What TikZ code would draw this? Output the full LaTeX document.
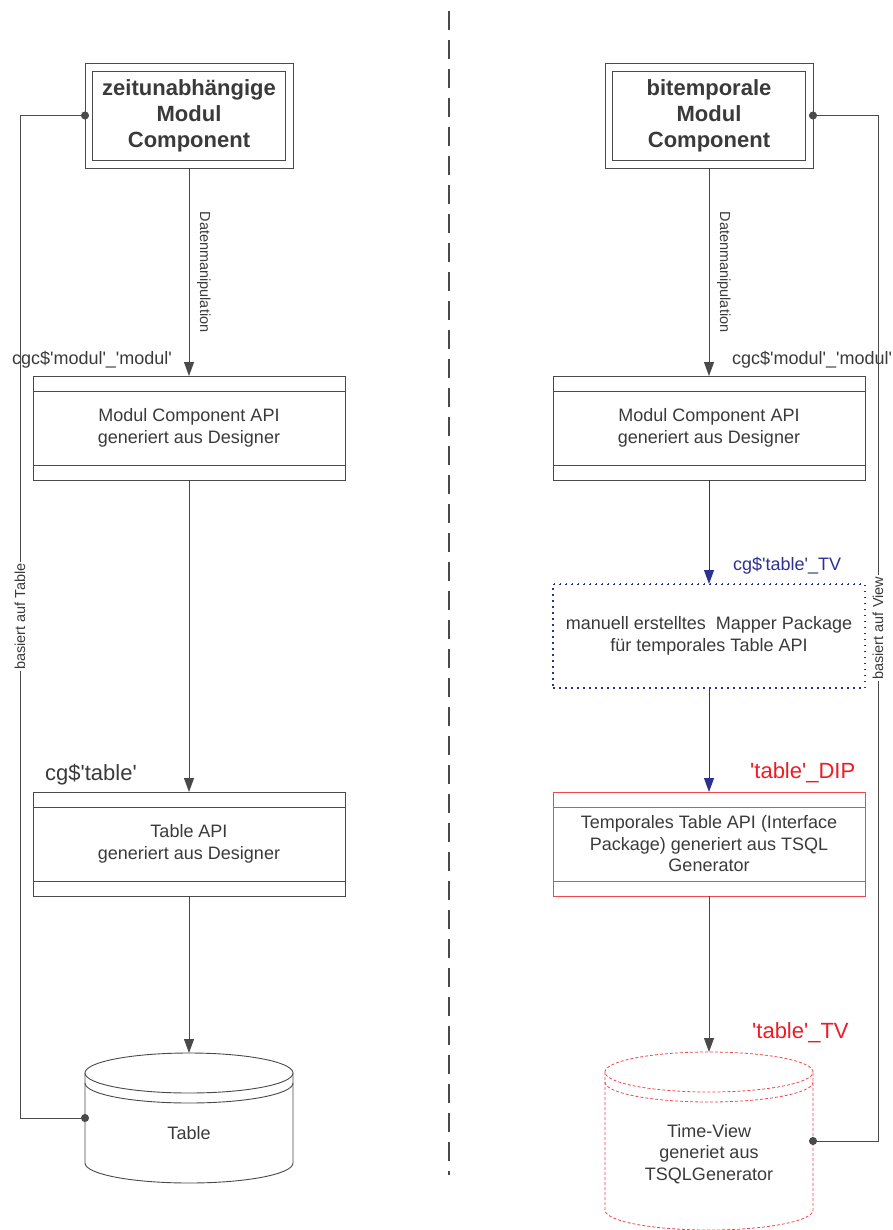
\documentclass[tikz,border=0pt]{standalone}
\usepackage{fontspec}
\setmainfont{Liberation Sans}
\usetikzlibrary{arrows.meta}
\definecolor{ink}{HTML}{3A3A3A}
\definecolor{wire}{HTML}{4A4A4A}
\definecolor{mapblue}{HTML}{2E3192}
\definecolor{dipred}{HTML}{ED1C24}
\definecolor{boxred}{HTML}{F0484E}
\newcommand\apo{\textquotesingle}
\newcommand\drawdrum[2]{%
  \draw[#2] ([yshift=-20pt]#1.north west) -- ([yshift=20pt]#1.south west)
    arc[start angle=180,end angle=360,x radius=104pt,y radius=20pt]
    -- ([yshift=-20pt]#1.north east);
  \draw[#2] ([yshift=-20pt]#1.north) ellipse[x radius=104pt,y radius=20pt];
  \draw[#2] ([yshift=-30pt]#1.north west)
    arc[start angle=180,end angle=360,x radius=104pt,y radius=20pt];}

\begin{document}
\begin{tikzpicture}[x=1pt,y=-1pt,
  every node/.style={text=ink,align=center,font=\fontsize{18}{21.5}\selectfont},
  titlebox/.style={draw=wire,line width=0.9pt,minimum width=208pt,minimum height=105pt,
    inner sep=0pt,outer sep=0pt,font=\fontsize{22}{26}\selectfont\bfseries,
    path picture={\draw[wire,line width=0.9pt]
      ([shift={(7.5pt,-8.5pt)}]path picture bounding box.north west) rectangle
      ([shift={(-7.5pt,8pt)}]path picture bounding box.south east);}},
  apibox/.style={draw=#1,line width=0.9pt,minimum width=312pt,minimum height=104pt,
    inner sep=0pt,outer sep=0pt,
    path picture={\draw[#1,line width=0.9pt]
      ([yshift=-15pt]path picture bounding box.north west) -- ([yshift=-15pt]path picture bounding box.north east)
      ([yshift=15pt]path picture bounding box.south west) -- ([yshift=15pt]path picture bounding box.south east);}},
  apibox/.default=wire,
  mapbox/.style={draw=mapblue,line width=1.3pt,dash pattern=on 1.5pt off 4.5pt,
    minimum width=312pt,minimum height=104pt,inner sep=0pt,outer sep=0pt,
    path picture={\draw[mapblue,line width=1.6pt]
      (path picture bounding box.north west) -- (path picture bounding box.north east)
      (path picture bounding box.south west) -- (path picture bounding box.south east);}},
  drum/.style={minimum width=208pt,inner sep=0pt,outer sep=0pt},
  flow/.style={draw=wire,line width=0.9pt,-{Triangle[length=14pt,width=10pt]}},
  link/.style={draw=wire,line width=0.9pt,{Circle[length=8pt]}-{Circle[length=8pt]},
    shorten <=-4pt,shorten >=-4pt},
  dlabel/.style={rotate=-90,anchor=south,inner sep=0pt,outer sep=8pt,
    font=\fontsize{14.5}{17}\selectfont},
  side/.style={rotate=90,fill=white,inner sep=1.5pt,font=\fontsize{14.5}{17}\selectfont},
  tag/.style={anchor=west,inner sep=0pt},
  divider/.style={draw=wire,line width=2pt,dash pattern=on 19pt off 10pt}]
\useasboundingbox (0,0) rectangle (893,1230);

\node[titlebox] (zm) at (189,115.5) {zeitunabhängige\\Modul\\Component};
\node[apibox] (zapi) at (189,428) {Modul Component API\\generiert aus Designer};
\node[apibox] (tapi) at (189,844) {Table API\\generiert aus Designer};
\node[drum,minimum height=130pt] (tab) at (189,1118) {};
\node (tabtext) at ([yshift=-15pt]tab.center) {Table};

\node[titlebox] (bm) at (709,115.5) {bitemporale\\Modul\\Component};
\node[apibox] (bapi) at (709,428) {Modul Component API\\generiert aus Designer};
\node[mapbox] (map) at (709,636) {manuell erstelltes\ \ Mapper Package\\für temporales Table API};
\node[apibox=boxred] (dip) at (709,844) {Temporales Table API (Interface\\Package) generiert aus TSQL\\Generator};
\node[drum,minimum height=178pt] (tv) at (709,1141) {};
\node (tvtext) at ([yshift=-13pt]tv.center) {Time-View\\generiet aus\\TSQLGenerator};

\node[inner sep=0pt] (zcgc) at (92,360) {cgc\$\apo modul\apo\_\apo modul\apo};
\node[tag] (bcgc) at (732,360) {cgc\$\apo modul\apo\_\apo modul\apo};
\node[tag,font=\fontsize{22}{26}\selectfont] (cgtab) at (45,775) {cg\$\apo table\apo};
\node[tag,text=mapblue] (cgtv) at (733,566) {cg\$\apo table\apo\_TV};
\node[tag,text=dipred,font=\fontsize{22}{26}\selectfont] (tdip) at (750,773) {\apo table\apo\_DIP};
\node[tag,text=dipred,font=\fontsize{22}{26}\selectfont] (ttv) at (752,1033) {\apo table\apo\_TV};

\drawdrum{tab}{draw=wire,line width=0.9pt}
\drawdrum{tv}{draw=boxred,line width=0.8pt,dash pattern=on 3pt off 2pt}

\draw[flow] (zm) -- node[dlabel]{Datenmanipulation} (zapi);
\draw[flow] (zapi) -- (tapi);
\draw[flow] (tapi) -- (tab);
\draw[flow] (bm) -- node[dlabel]{Datenmanipulation} (bapi);
\draw[flow,draw=mapblue] (bapi) -- (map);
\draw[flow,draw=mapblue] (map) -- (dip);
\draw[flow] (dip) -- (tv);

\draw[link] (zm.west) -- ++(-65,0) |- node[pos=0.25,side]{basiert auf Table} (tab.west);
\draw[link] (bm.east) -- ++(65,0) |- node[pos=0.25,side]{basiert auf View} (tv.east);

\draw[divider] (449,11) -- (449,1175);
\end{tikzpicture}
\end{document}
